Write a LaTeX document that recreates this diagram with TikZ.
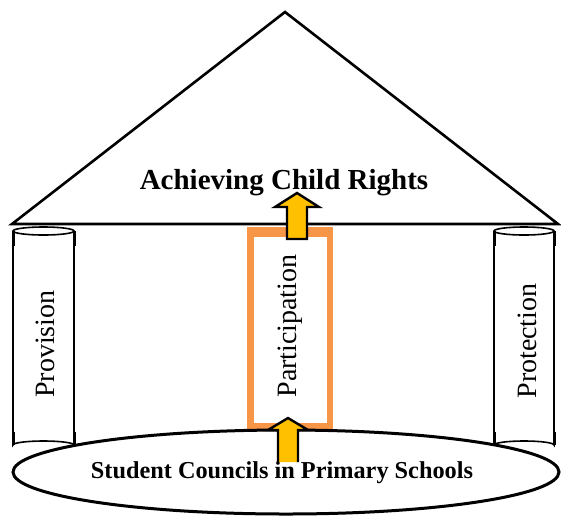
\documentclass[tikz,border=0pt]{standalone}
\usepackage{fontspec}
\setmainfont{Liberation Serif}
\definecolor{pillarorange}{HTML}{F79646}
\definecolor{arrowyellow}{HTML}{FFC000}
\begin{document}
\begin{tikzpicture}[x=1pt,y=-1pt,
  outline/.style={draw=black,line width=2.6pt,line join=miter},
  cyl/.style={draw=black,line width=1.6pt,fill=white},
  blockarrow/.style={draw=black,line width=2.4pt,fill=arrowyellow,line join=miter},
  pillartext/.style={rotate=90,font=\fontsize{28}{31}\selectfont,inner sep=0pt}]
\useasboundingbox (0,0) rectangle (561,520);
% roof
\draw[outline,fill=white] (285,12) -- (558,224) -- (12,224) -- cycle;
\node[font=\bfseries\fontsize{29}{33}\selectfont,inner sep=0pt] (title) at (284,183) {Achieving Child Rights};
% left pillar
\begin{scope}[shift={(43.5,0)}]
  \draw[cyl] (-30.5,231) -- (-30.5,445) arc[start angle=180,end angle=360,x radius=30.5,y radius=4] -- (30.5,231);
  \draw[cyl] (0,231) ellipse[x radius=30.5,y radius=4];
  \draw[line width=3pt] (-30.5,231) -- (-30.5,246) (30.5,231) -- (30.5,246);
  \draw[line width=3pt] (-30.5,432) -- (-30.5,445) (30.5,432) -- (30.5,445);
\end{scope}
\node[pillartext] (provision) at (45,344) {Provision};
% right pillar
\begin{scope}[shift={(524,0)}]
  \draw[cyl] (-30,231) -- (-30,445) arc[start angle=180,end angle=360,x radius=30,y radius=4] -- (30,231);
  \draw[cyl] (0,231) ellipse[x radius=30,y radius=4];
  \draw[line width=3pt] (-30,231) -- (-30,246) (30,231) -- (30,246);
  \draw[line width=3pt] (-30,432) -- (-30,445) (30,432) -- (30,445);
\end{scope}
\node[pillartext] (protection) at (527,341) {Protection};
% middle pillar
\fill[pillarorange] (247,227) rectangle (333,430);
\fill[white] (254,237) rectangle (327,423);
\node[pillartext] (participation) at (290,326) {Participation};
% base
\draw[draw=black,line width=3pt,fill=white] (286,472) ellipse[x radius=273,y radius=42];
\node[font=\bfseries\fontsize{24.3}{28}\selectfont,inner sep=0pt] (councils) at (282,473) {Student Councils in Primary Schools};
% arrows
\draw[blockarrow] (278,462) -- (278,430) -- (268,430) -- (288,418) -- (308,430) -- (298,430) -- (298,462);
\draw[blockarrow] (287,239) -- (287,207) -- (275,207) -- (297,193) -- (319,207) -- (307,207) -- (307,239) -- cycle;
\end{tikzpicture}
\end{document}
